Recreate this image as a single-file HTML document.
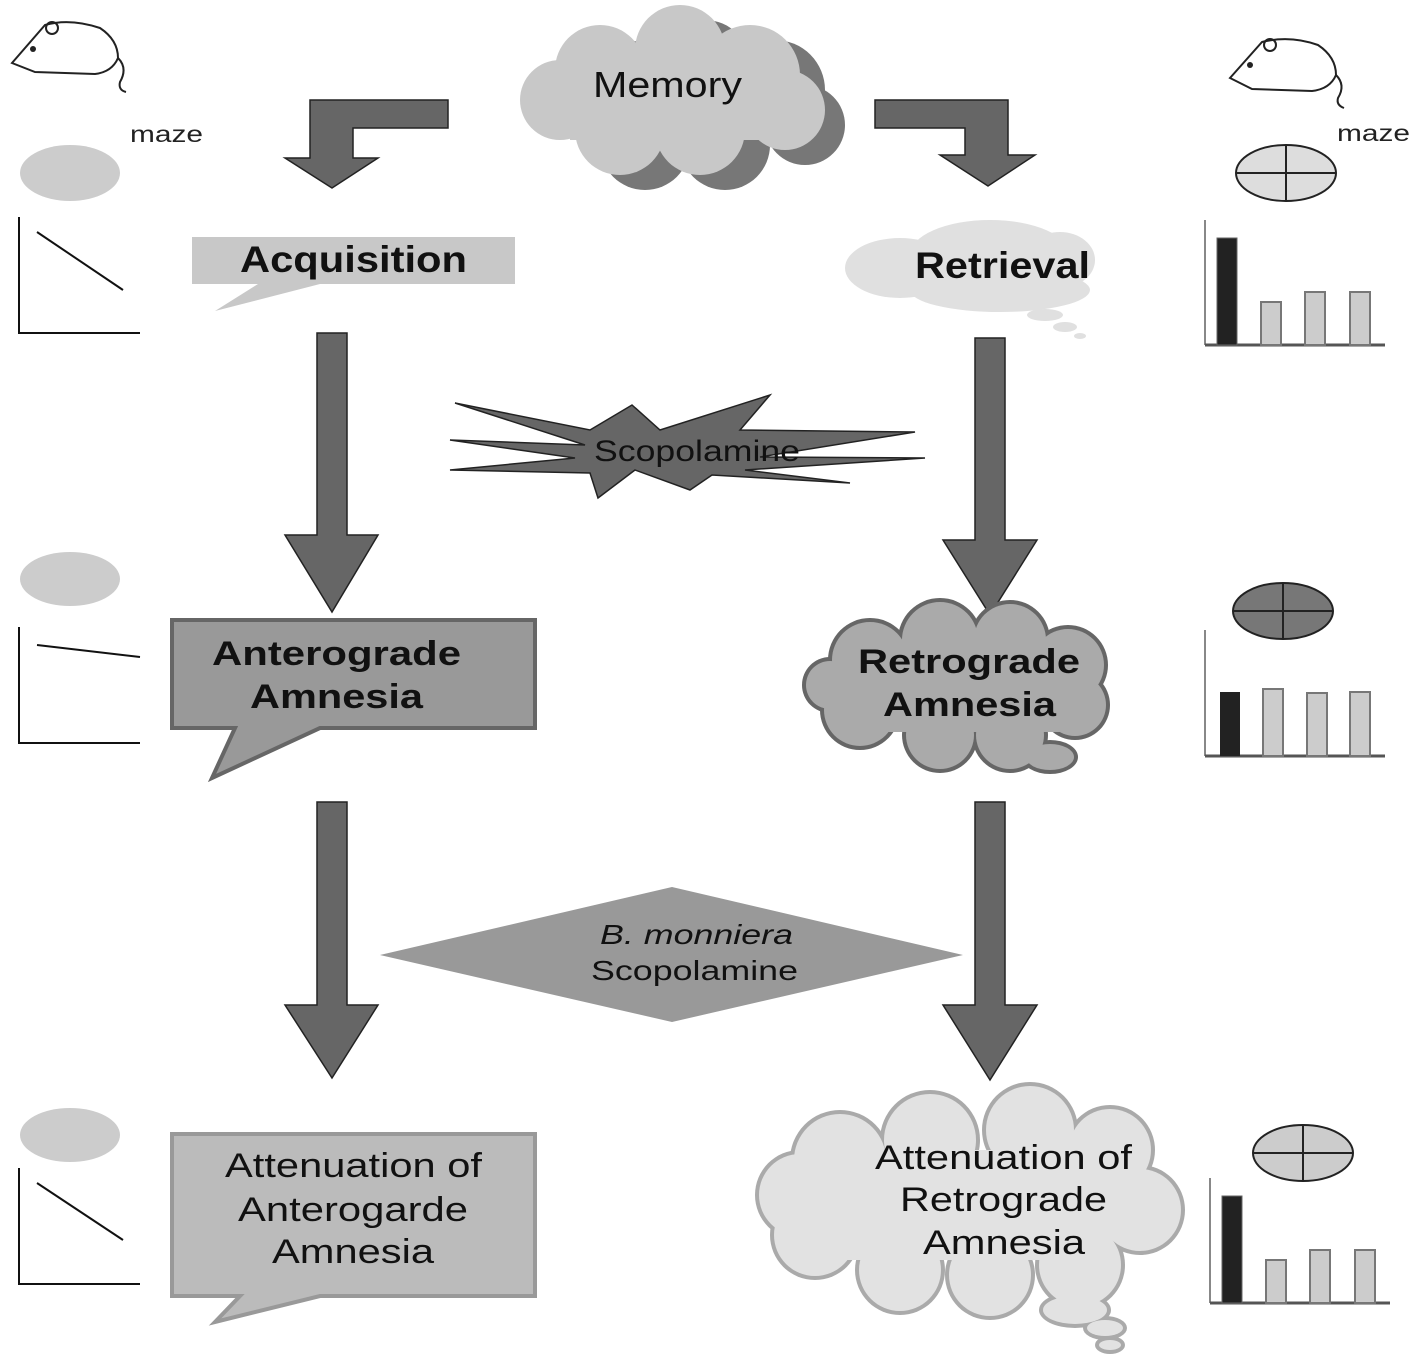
<!DOCTYPE html>
<html><head><meta charset="utf-8"><style>
html,body{margin:0;padding:0;background:#fff;width:1418px;height:1364px;overflow:hidden}
svg{display:block}
text{font-family:"Liberation Sans",sans-serif}
</style></head><body>
<svg width="1418" height="1364" viewBox="0 0 1418 1364" xmlns="http://www.w3.org/2000/svg">
<defs>
<g id="chartHigh">
  <line x1="0" y1="0" x2="0" y2="125" stroke="#888" stroke-width="2"/>
  <line x1="0" y1="125" x2="180" y2="125" stroke="#555" stroke-width="3"/>
  <rect x="12" y="18" width="20" height="107" fill="#222" stroke="#666"/>
  <rect x="56" y="82" width="20" height="43" fill="#ccc" stroke="#777" stroke-width="2"/>
  <rect x="100" y="72" width="20" height="53" fill="#ccc" stroke="#777" stroke-width="2"/>
  <rect x="145" y="72" width="20" height="53" fill="#ccc" stroke="#777" stroke-width="2"/>
</g>
</defs>

<!-- mice -->
<g fill="none" stroke="#222" stroke-width="2">
<path d="M12 63 L45 25 Q70 18 100 28 Q118 40 118 58 Q112 72 95 74 L35 72 Z"/>
<circle cx="52" cy="28" r="6"/><path d="M118 58 Q128 68 120 82 Q118 90 126 92"/>
<path d="M1230 78 L1262 42 Q1290 35 1318 45 Q1336 57 1336 75 Q1330 89 1312 91 L1252 89 Z"/>
<circle cx="1270" cy="45" r="6"/><path d="M1336 75 Q1346 85 1338 98 Q1336 105 1344 108"/>
</g>
<circle cx="33" cy="49" r="3" fill="#222"/><circle cx="1250" cy="65" r="3" fill="#222"/>

<text x="130" y="142" font-size="23" fill="#222" textLength="73" lengthAdjust="spacingAndGlyphs">maze</text>
<text x="1337" y="141" font-size="23" fill="#222" textLength="73" lengthAdjust="spacingAndGlyphs">maze</text>

<!-- left mazes & line graphs -->
<ellipse cx="70" cy="173" rx="50" ry="28" fill="#ccc"/>
<ellipse cx="70" cy="579" rx="50" ry="27" fill="#ccc"/>
<ellipse cx="70" cy="1135" rx="50" ry="27" fill="#ccc"/>
<g stroke="#111" stroke-width="2" fill="none">
<path d="M19 217 V333 H140"/><line x1="37" y1="232" x2="123" y2="290"/>
<path d="M19 627 V743 H140"/><line x1="37" y1="645" x2="140" y2="657"/>
<path d="M19 1168 V1284 H140"/><line x1="37" y1="1183" x2="123" y2="1240"/>
</g>

<!-- right mazes -->
<g stroke="#222" stroke-width="2">
<ellipse cx="1286" cy="173" rx="50" ry="28" fill="#ddd"/><line x1="1236" y1="173" x2="1336" y2="173"/><line x1="1286" y1="145" x2="1286" y2="201"/>
<ellipse cx="1283" cy="611" rx="50" ry="28" fill="#777"/><line x1="1233" y1="611" x2="1333" y2="611"/><line x1="1283" y1="583" x2="1283" y2="639"/>
<ellipse cx="1303" cy="1153" rx="50" ry="28" fill="#ccc"/><line x1="1253" y1="1153" x2="1353" y2="1153"/><line x1="1303" y1="1125" x2="1303" y2="1181"/>
</g>
<!-- charts -->
<use href="#chartHigh" transform="translate(1205,220)"/>
<g transform="translate(1205,630)">
  <line x1="0" y1="0" x2="0" y2="126" stroke="#888" stroke-width="2"/>
  <line x1="0" y1="126" x2="180" y2="126" stroke="#555" stroke-width="3"/>
  <rect x="15" y="62" width="20" height="64" fill="#222"/>
  <rect x="58" y="59" width="20" height="67" fill="#ccc" stroke="#777" stroke-width="2"/>
  <rect x="102" y="63" width="20" height="63" fill="#ccc" stroke="#777" stroke-width="2"/>
  <rect x="145" y="62" width="20" height="64" fill="#ccc" stroke="#777" stroke-width="2"/>
</g>
<use href="#chartHigh" transform="translate(1210,1178)"/>

<!-- Memory cloud -->
<g fill="#777">
<circle cx="625" cy="85" r="45"/><circle cx="705" cy="65" r="45"/><circle cx="775" cy="90" r="50"/><circle cx="725" cy="145" r="45"/><circle cx="645" cy="145" r="45"/><circle cx="805" cy="125" r="40"/>
</g>
<g fill="#c8c8c8">
<circle cx="600" cy="70" r="45"/><circle cx="680" cy="50" r="45"/><circle cx="750" cy="75" r="50"/><circle cx="700" cy="130" r="45"/><circle cx="620" cy="130" r="45"/><circle cx="560" cy="100" r="40"/><circle cx="785" cy="110" r="40"/>
<rect x="570" y="60" width="220" height="80"/>
</g>
<text x="593" y="97" font-size="36" fill="#111" textLength="149" lengthAdjust="spacingAndGlyphs">Memory</text>

<!-- bent arrows -->
<g fill="#666" stroke="#222" stroke-width="1.5">
<path d="M448 100 V128 H353 V158 H378 L332 188 L285 158 H310 V100 Z"/>
<path d="M875 100 H1008 V155 H1035 L988 186 L940 155 H965 V128 H875 Z"/>
</g>

<!-- Acquisition -->
<path d="M192 237 H515 V284 H320 L215 311 L258 284 H192 Z" fill="#c8c8c8"/>
<text x="240" y="272" font-size="37" font-weight="bold" fill="#111" textLength="227" lengthAdjust="spacingAndGlyphs">Acquisition</text>

<!-- Retrieval cloud -->
<g fill="#e0e0e0">
<ellipse cx="900" cy="268" rx="55" ry="30"/><ellipse cx="990" cy="255" rx="80" ry="35"/><ellipse cx="1000" cy="290" rx="90" ry="22"/><ellipse cx="1060" cy="260" rx="35" ry="28"/>
<ellipse cx="1045" cy="315" rx="18" ry="6"/><ellipse cx="1065" cy="327" rx="12" ry="5"/><ellipse cx="1080" cy="336" rx="6" ry="3"/>
</g>
<text x="915" y="278" font-size="37" font-weight="bold" fill="#111" textLength="175" lengthAdjust="spacingAndGlyphs">Retrieval</text>

<!-- straight arrows -->
<g fill="#666" stroke="#222" stroke-width="1.5">
<path d="M317 333 H347 V535 H378 L332 612 L285 535 H317 Z"/>
<path d="M975 338 H1005 V540 H1037 L990 615 L943 540 H975 Z"/>
<path d="M317 802 H347 V1005 H378 L332 1078 L285 1005 H317 Z"/>
<path d="M975 802 H1005 V1005 H1037 L990 1080 L943 1005 H975 Z"/>
</g>

<!-- Scopolamine star -->
<path d="M455 403 L590 430 L632 405 L660 430 L770 395 L740 430 L915 432 L760 457 L925 458 L745 470 L850 483 L712 475 L690 490 L635 470 L598 498 L590 473 L450 470 L575 458 L450 440 L585 445 Z" fill="#666" stroke="#222" stroke-width="1.5"/>
<text x="594" y="461" font-size="30" fill="#111" textLength="206" lengthAdjust="spacingAndGlyphs">Scopolamine</text>

<!-- Anterograde -->
<path d="M172 620 H535 V728 H320 L212 778 L235 728 H172 Z" fill="#999" stroke="#666" stroke-width="4"/>
<text x="212" y="665" font-size="34" font-weight="bold" fill="#111" textLength="249" lengthAdjust="spacingAndGlyphs">Anterograde</text>
<text x="250" y="708" font-size="34" font-weight="bold" fill="#111" textLength="173" lengthAdjust="spacingAndGlyphs">Amnesia</text>

<!-- Retrograde cloud -->
<g fill="#666">
<circle cx="870" cy="660" r="42"/><circle cx="940" cy="640" r="42"/><circle cx="1010" cy="640" r="40"/><circle cx="1068" cy="665" r="40"/><circle cx="1075" cy="705" r="35"/><circle cx="1010" cy="735" r="38"/><circle cx="940" cy="735" r="38"/><circle cx="860" cy="710" r="40"/><circle cx="830" cy="685" r="28"/>
<ellipse cx="1050" cy="757" rx="28" ry="17"/>
</g>
<g fill="#aaa">
<circle cx="870" cy="660" r="38"/><circle cx="940" cy="640" r="38"/><circle cx="1010" cy="640" r="36"/><circle cx="1068" cy="665" r="36"/><circle cx="1075" cy="705" r="31"/><circle cx="1010" cy="735" r="34"/><circle cx="940" cy="735" r="34"/><circle cx="860" cy="710" r="36"/><circle cx="830" cy="685" r="24"/>
<rect x="860" y="650" width="200" height="82"/>
<ellipse cx="1050" cy="757" rx="24" ry="13"/>
</g>
<text x="858" y="673" font-size="34" font-weight="bold" fill="#111" textLength="222" lengthAdjust="spacingAndGlyphs">Retrograde</text>
<text x="883" y="716" font-size="34" font-weight="bold" fill="#111" textLength="173" lengthAdjust="spacingAndGlyphs">Amnesia</text>

<!-- diamond -->
<path d="M380 955 L672 887 L963 955 L672 1022 Z" fill="#999"/>
<text x="600" y="944" font-size="28" font-style="italic" fill="#111" textLength="193" lengthAdjust="spacingAndGlyphs">B. monniera</text>
<text x="591" y="980" font-size="28" fill="#111" textLength="207" lengthAdjust="spacingAndGlyphs">Scopolamine</text>

<!-- Attenuation anterograde -->
<path d="M172 1134 H535 V1296 H320 L215 1322 L240 1296 H172 Z" fill="#bbb" stroke="#999" stroke-width="4"/>
<text x="225" y="1177" font-size="34" fill="#111" textLength="257" lengthAdjust="spacingAndGlyphs">Attenuation of</text>
<text x="238" y="1221" font-size="34" fill="#111" textLength="230" lengthAdjust="spacingAndGlyphs">Anterogarde</text>
<text x="272" y="1263" font-size="34" fill="#111" textLength="162" lengthAdjust="spacingAndGlyphs">Amnesia</text>

<!-- Attenuation retrograde cloud -->
<g fill="#aaa">
<circle cx="840" cy="1160" r="50"/><circle cx="930" cy="1140" r="50"/><circle cx="1030" cy="1130" r="48"/><circle cx="1110" cy="1150" r="45"/><circle cx="1140" cy="1210" r="45"/><circle cx="1080" cy="1265" r="45"/><circle cx="990" cy="1275" r="45"/><circle cx="900" cy="1270" r="45"/><circle cx="815" cy="1235" r="45"/><circle cx="800" cy="1195" r="45"/>
<ellipse cx="1075" cy="1310" rx="36" ry="18"/><ellipse cx="1105" cy="1328" rx="22" ry="12"/><ellipse cx="1110" cy="1345" rx="15" ry="9"/>
</g>
<g fill="#e2e2e2">
<circle cx="840" cy="1160" r="46"/><circle cx="930" cy="1140" r="46"/><circle cx="1030" cy="1130" r="44"/><circle cx="1110" cy="1150" r="41"/><circle cx="1140" cy="1210" r="41"/><circle cx="1080" cy="1265" r="41"/><circle cx="990" cy="1275" r="41"/><circle cx="900" cy="1270" r="41"/><circle cx="815" cy="1235" r="41"/><circle cx="800" cy="1195" r="41"/>
<rect x="830" y="1150" width="280" height="110"/>
<ellipse cx="1075" cy="1310" rx="32" ry="14"/><ellipse cx="1105" cy="1328" rx="18" ry="8"/><ellipse cx="1110" cy="1345" rx="11" ry="5"/>
</g>
<text x="875" y="1169" font-size="34" fill="#111" textLength="257" lengthAdjust="spacingAndGlyphs">Attenuation of</text>
<text x="900" y="1211" font-size="34" fill="#111" textLength="207" lengthAdjust="spacingAndGlyphs">Retrograde</text>
<text x="923" y="1254" font-size="34" fill="#111" textLength="162" lengthAdjust="spacingAndGlyphs">Amnesia</text>
</svg>
</body></html>
